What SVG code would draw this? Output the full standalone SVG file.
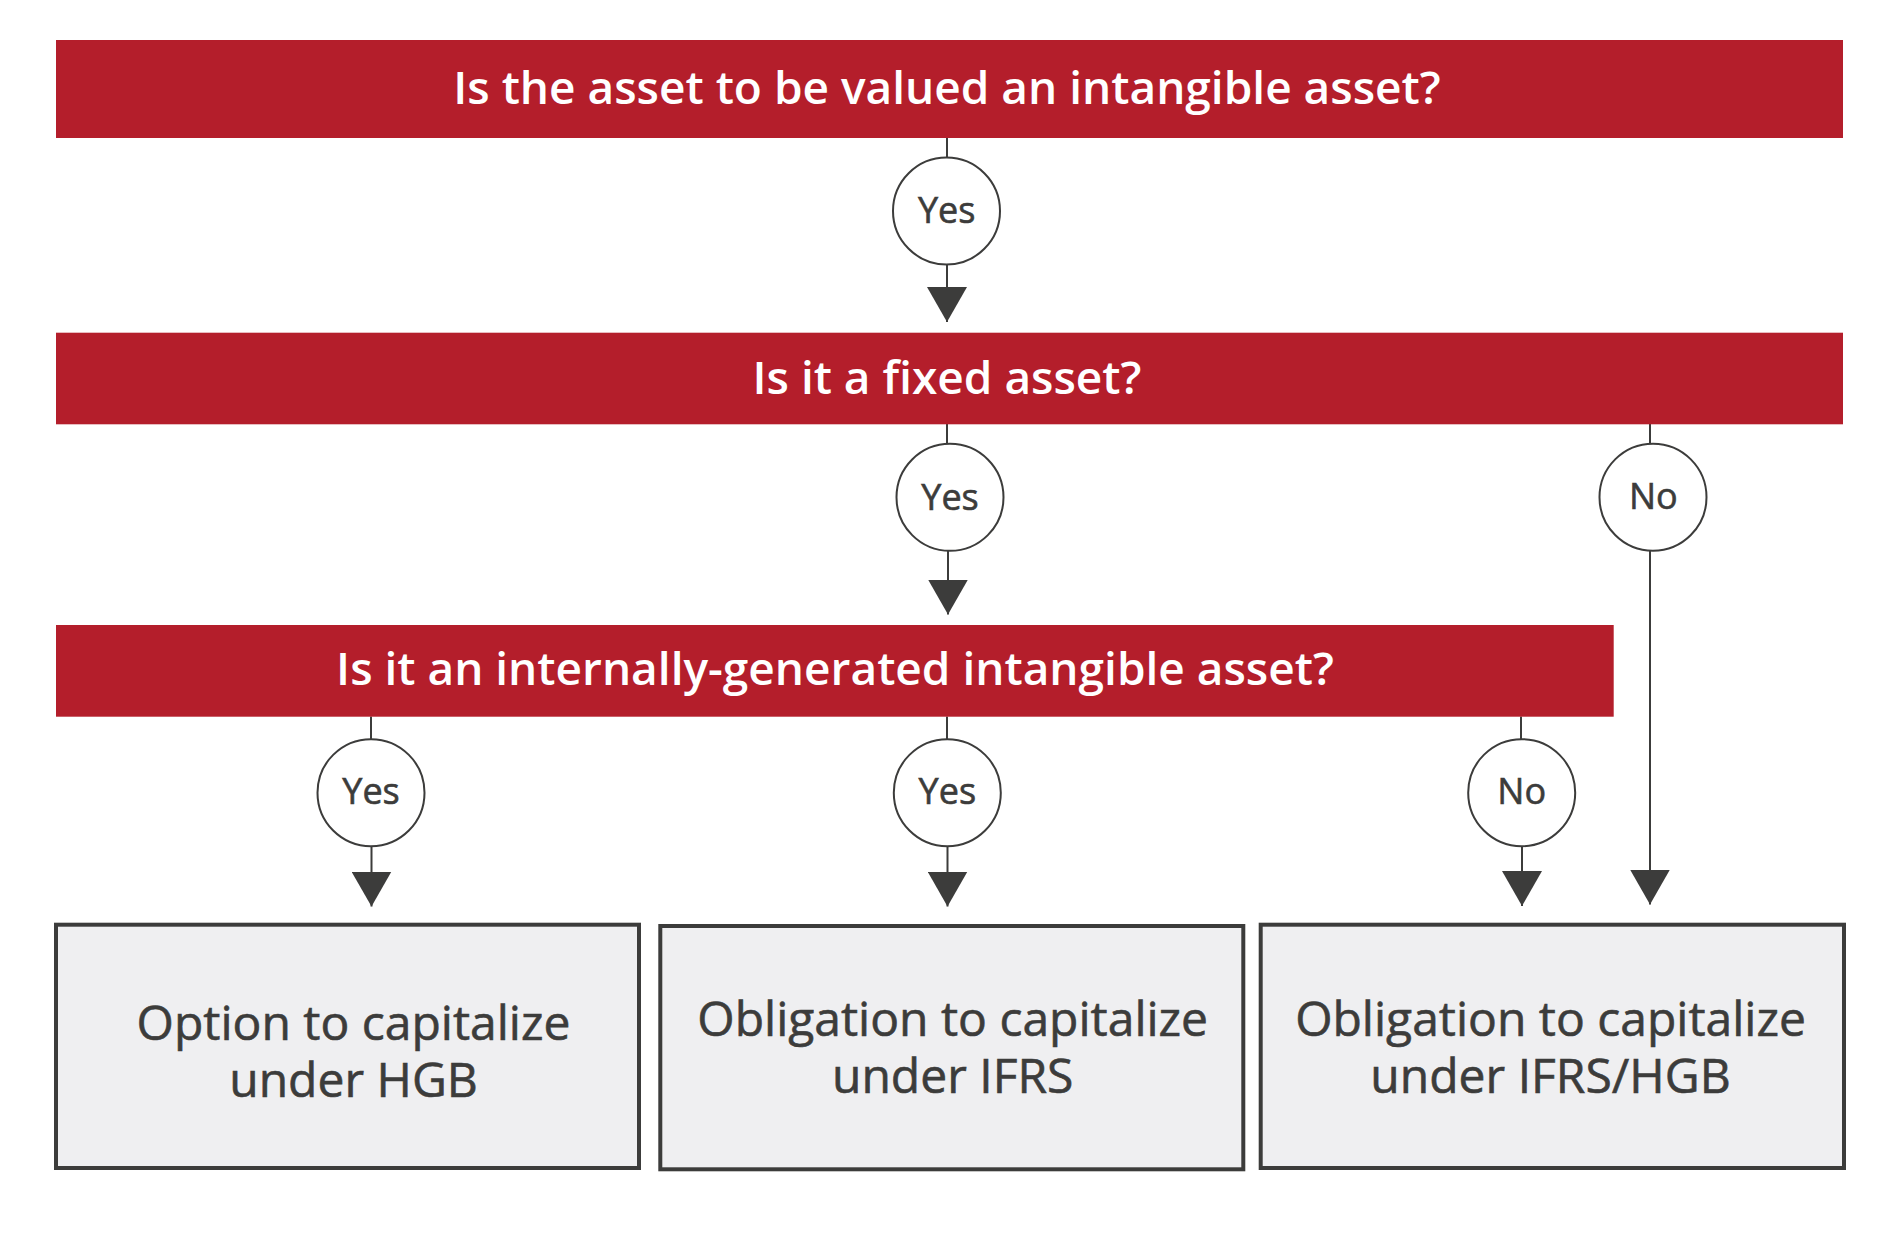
<svg xmlns="http://www.w3.org/2000/svg" width="1897" height="1259" viewBox="0 0 1897 1259">
  <style>
    .bar { fill: #b41e2b; }
    .title { font-family: "Open Sans", "Liberation Sans", sans-serif; font-weight: 600; font-size: 46px; fill: #ffffff; text-anchor: middle; }
    .circ { fill: #ffffff; stroke: #3c3c3b; stroke-width: 2; }
    .lbl { font-family: "Open Sans", "Liberation Sans", sans-serif; font-weight: 400; font-size: 36px; fill: #3c3c3b; stroke: #3c3c3b; stroke-width: 0.6; text-anchor: middle; }
    .box { fill: #efeff1; stroke: #3c3c3b; stroke-width: 4; }
    .boxtxt { font-family: "Open Sans", "Liberation Sans", sans-serif; font-weight: 400; font-size: 48px; fill: #3c3c3b; stroke: #3c3c3b; stroke-width: 0.6; text-anchor: middle; }
    .conn { fill: none; stroke: #3c3c3b; stroke-width: 2; }
    .arr { marker-end: url(#head); }
  </style>
  <defs>
    <marker id="head" markerUnits="userSpaceOnUse" viewBox="0 0 35 40" refX="35" refY="20" markerWidth="35" markerHeight="40" orient="auto">
      <path d="M0 0 L35 20 L0 40 Z" fill="#3c3c3b"/>
    </marker>
  </defs>
  <rect width="1897" height="1259" fill="#ffffff"/>

  <g id="connectors">
    <path class="conn" d="M947 138 V157.5"/>
    <path class="conn arr" d="M947 264.5 V322"/>
    <path class="conn" d="M947 424 V444"/>
    <path class="conn arr" d="M948 550.5 V614.5"/>
    <path class="conn" d="M1650 424 V443.7"/>
    <path class="conn arr" d="M1650 550.5 V904.5"/>
    <path class="conn" d="M371 716.5 V739.2"/>
    <path class="conn arr" d="M371.5 846 V906.5"/>
    <path class="conn" d="M947 716.5 V739.2"/>
    <path class="conn arr" d="M947.5 846 V906.5"/>
    <path class="conn" d="M1521 716.5 V739.2"/>
    <path class="conn arr" d="M1522 846 V906"/>
  </g>

  <g id="q1">
    <rect class="bar" x="56" y="40" width="1787" height="98"/>
    <text class="title" x="947" y="104">Is the asset to be valued an intangible asset?</text>
  </g>
  <g id="q2">
    <rect class="bar" x="56" y="332.7" width="1787" height="91.6"/>
    <text class="title" x="947" y="394.3">Is it a fixed asset?</text>
  </g>
  <g id="q3">
    <rect class="bar" x="56" y="625" width="1557.7" height="91.7"/>
    <text class="title" x="835" y="685">Is it an internally-generated intangible asset?</text>
  </g>

  <g id="yes1">
    <circle class="circ" cx="946.5" cy="211" r="53.5"/>
    <text class="lbl" x="946.7" y="223">Yes</text>
  </g>
  <g id="yes2">
    <circle class="circ" cx="950" cy="497.3" r="53.5"/>
    <text class="lbl" x="950" y="510">Yes</text>
  </g>
  <g id="no1">
    <circle class="circ" cx="1653" cy="497.2" r="53.5"/>
    <text class="lbl" x="1653.3" y="509">No</text>
  </g>
  <g id="yes3">
    <circle class="circ" cx="371" cy="792.7" r="53.5"/>
    <text class="lbl" x="371" y="804">Yes</text>
  </g>
  <g id="yes4">
    <circle class="circ" cx="947.3" cy="792.7" r="53.5"/>
    <text class="lbl" x="947.3" y="804">Yes</text>
  </g>
  <g id="no2">
    <circle class="circ" cx="1521.7" cy="792.7" r="53.5"/>
    <text class="lbl" x="1521.7" y="804">No</text>
  </g>

  <g id="result1">
    <rect class="box" x="56" y="924.7" width="583" height="243.3"/>
    <text class="boxtxt" x="353.5" y="1040">Option to capitalize</text>
    <text class="boxtxt" x="353.5" y="1097">under HGB</text>
  </g>
  <g id="result2">
    <rect class="box" x="660.3" y="926" width="583" height="243.3"/>
    <text class="boxtxt" x="952.7" y="1036">Obligation to capitalize</text>
    <text class="boxtxt" x="952.7" y="1093">under IFRS</text>
  </g>
  <g id="result3">
    <rect class="box" x="1260.7" y="924.7" width="583.3" height="243.3"/>
    <text class="boxtxt" x="1550.5" y="1036">Obligation to capitalize</text>
    <text class="boxtxt" x="1550.5" y="1093">under IFRS/HGB</text>
  </g>
</svg>
